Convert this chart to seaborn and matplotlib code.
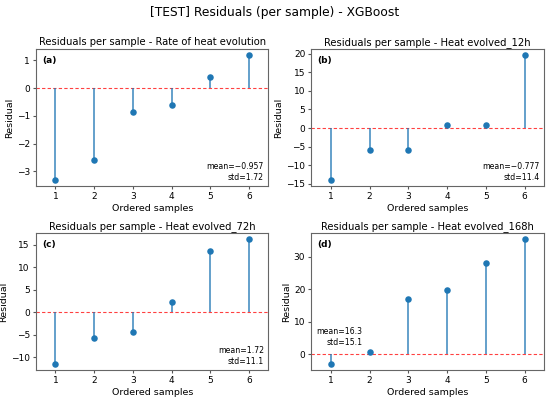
import numpy as np
import pandas as pd
import matplotlib
matplotlib.use("Agg")
import matplotlib.pyplot as plt
import seaborn as sns

samples = [1, 2, 3, 4, 5, 6]
res_rate = [-3.30, -2.58, -0.87, -0.62, 0.42, 1.19]
res_12h = [-13.9, -6.0, -6.0, 0.8, 0.8, 19.6]
res_72h = [-11.5, -5.8, -4.4, 2.3, 13.5, 16.2]
res_168h = [-3.0, 0.5, 17.0, 19.8, 28.1, 35.5]

titles = ["Residuals per sample - Rate of heat evolution",
          "Residuals per sample - Heat evolved_12h",
          "Residuals per sample - Heat evolved_72h",
          "Residuals per sample - Heat evolved_168h"]
letters = ["(a)", "(b)", "(c)", "(d)"]
stats_text = ["mean=\u22120.957\nstd=1.72", "mean=\u22120.777\nstd=11.4",
              "mean=1.72\nstd=11.1", "mean=16.3\nstd=15.1"]
suptitle = "[TEST] Residuals (per sample) - XGBoost"

series = [res_rate, res_12h, res_72h, res_168h]
stat_pos = [(0.98, 0.03), (0.98, 0.03), (0.98, 0.03), (0.22, 0.17)]

plt.rcParams['font.family'] = ['DejaVu Sans']
fig, axes = plt.subplots(2, 2, figsize=(5.5, 3.98), dpi=100)
color = "#1f77b4"
for i, ax in enumerate(axes.flat):
    df = pd.DataFrame({"sample": samples, "res": series[i]})
    ax.vlines(df["sample"], 0, df["res"], color=color, alpha=0.75, lw=1.3, zorder=2)
    sns.scatterplot(data=df, x="sample", y="res", ax=ax, color=color, s=22,
                    edgecolor=color, linewidth=0, zorder=3)
    ax.axhline(0, color="red", ls=(0, (3, 2)), lw=0.8, alpha=0.75, zorder=1)
    ax.set_title(titles[i], fontsize=7.2, pad=3)
    ax.set_xlabel("Ordered samples", fontsize=6.8, labelpad=2)
    ax.set_ylabel("Residual", fontsize=6.8, labelpad=2)
    ax.set_xticks(samples)
    ax.set_xlim(0.5, 6.5)
    ax.tick_params(labelsize=6.5, length=2.5, pad=2, color="#555555")
    ax.text(0.025, 0.95, letters[i], transform=ax.transAxes, fontsize=6.5,
            fontweight="bold", va="top", ha="left")
    x, y = stat_pos[i]
    ax.text(x, y, stats_text[i], transform=ax.transAxes, fontsize=5.6,
            ha="right", va="bottom", multialignment="right")
    for sp in ax.spines.values():
        sp.set_color("#666666")

axes[0, 0].set_yticks([-3, -2, -1, 0, 1])
axes[0, 1].set_yticks([-15, -10, -5, 0, 5, 10, 15, 20])
axes[1, 0].set_yticks([-10, -5, 0, 5, 10, 15])
axes[1, 1].set_yticks([0, 10, 20, 30])

fig.suptitle(suptitle, fontsize=8.8, y=0.985)
fig.subplots_adjust(left=0.0655, right=0.989, top=0.877, bottom=0.0704,
                    wspace=0.185, hspace=0.343)
fig.savefig("out.png", dpi=100)
